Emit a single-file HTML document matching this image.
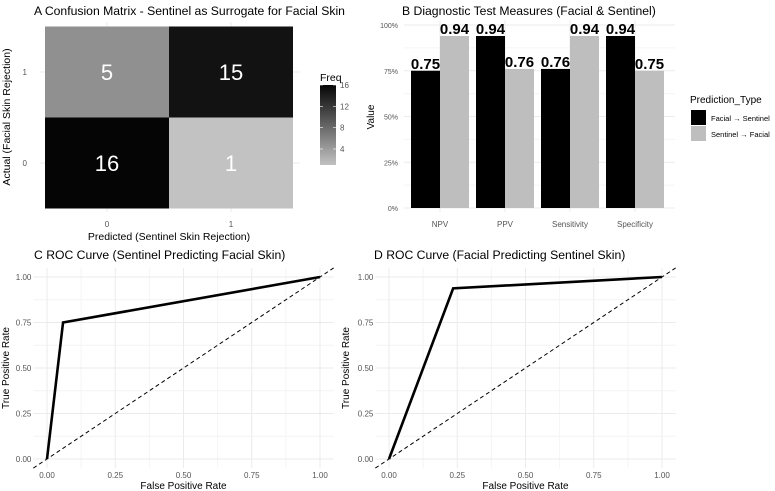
<!DOCTYPE html>
<html><head><meta charset="utf-8"><style>
body{margin:0;background:#fff;font-family:"Liberation Sans",sans-serif}
svg{display:block}
</style></head><body>
<svg id="c" width="775" height="491" xmlns="http://www.w3.org/2000/svg" font-family="Liberation Sans, sans-serif">
<defs><linearGradient id="fg" x1="0" y1="1" x2="0" y2="0"><stop offset="0" stop-color="#c2c2c2"/><stop offset="1" stop-color="#050505"/></linearGradient></defs>
</svg>
<script>
// Panel A data
const cmPred=[0,1,0,1];
const cmActual=[1,1,0,0];
const cmFreq=[5,15,16,1];
// Panel B data
const measures=["NPV","PPV","Sensitivity","Specificity"];
const facialToSentinel=[0.75,0.94,0.76,0.94];
const sentinelToFacial=[0.94,0.76,0.94,0.75];
const pctTicks=[0,0.25,0.5,0.75,1];
// ROC data
const rocC_fpr=[0,0.0588,1];
const rocC_tpr=[0,0.75,1];
const rocD_fpr=[0,0.235,1];
const rocD_tpr=[0,0.9375,1];
const rocTicks=[0,0.25,0.5,0.75,1];

const svg=document.getElementById('c');
const NS="http://www.w3.org/2000/svg";
function el(tag,attrs,parent){const e=document.createElementNS(NS,tag);for(const k in attrs)e.setAttribute(k,attrs[k]);(parent||svg).appendChild(e);return e;}
function txt(s,attrs,parent){const e=el('text',attrs,parent);e.textContent=s;return e;}
const grid='#ebebeb', minor='#f4f4f4';

// ---------- Panel A ----------
const gA=el('g',{});


const t=txt('A  Confusion Matrix - Sentinel as Surrogate for Facial Skin',{x:34,y:15,'font-size':12.2,fill:'#000'},gA);

const ax=v=>107+v*124, ay=v=>163-v*91;
[0,1].forEach(v=>{el('line',{x1:ax(v),x2:ax(v),y1:22,y2:212,stroke:grid},gA);el('line',{x1:40,x2:300,y1:ay(v),y2:ay(v),stroke:grid},gA);});
const fMin=1,fMax=16;
function grayOf(f){const u=(f-fMin)/(fMax-fMin);const c=Math.round(194-u*189);return `rgb(${c},${c},${c})`;}
cmFreq.forEach((f,i)=>{
 const r=el('rect',{x:ax(cmPred[i])-62,y:ay(cmActual[i])-45.5,width:124,height:91,fill:grayOf(f)},gA);
 
 
 const l=txt(String(f),{x:ax(cmPred[i]),y:ay(cmActual[i])+8,'text-anchor':'middle','font-size':22,fill:'#fff'},gA);
 
});
[0,1].forEach(v=>{txt(String(v),{x:ax(v),y:227,'text-anchor':'middle','font-size':8,fill:'#555'},gA);txt(String(v),{x:27,y:ay(v)+3,'text-anchor':'end','font-size':8,fill:'#555'},gA);});
let xl=txt('Predicted (Sentinel Skin Rejection)',{x:169,y:240,'text-anchor':'middle','font-size':10.5},gA);

let yl=txt('Actual (Facial Skin Rejection)',{x:0,y:0,transform:'translate(10,117) rotate(-90)','text-anchor':'middle','font-size':10.5},gA);

// legend
const lg=el('g',{},gA);

txt('Freq',{x:320,y:81,'font-size':10.5},lg);
el('rect',{x:320,y:85,width:16,height:80,fill:'url(#fg)'},lg);
const fy=f=>165-(f-fMin)/(fMax-fMin)*80;
[4,8,12,16].forEach(f=>{el('line',{x1:320,x2:323,y1:fy(f),y2:fy(f),stroke:'#fff','stroke-width':0.6},lg);el('line',{x1:333,x2:336,y1:fy(f),y2:fy(f),stroke:'#fff','stroke-width':0.6},lg);txt(String(f),{x:340,y:fy(f)+3,'font-size':8,fill:'#555'},lg);});

// ---------- Panel B ----------
const gB=el('g',{});

const tb=txt('B  Diagnostic Test Measures (Facial & Sentinel)',{x:402,y:15,'font-size':12.2},gB);

const by=v=>208-v*183, bx=i=>440+i*65;
for(let k=0;k<4;k++){const v=0.125+k*0.25;el('line',{x1:404,x2:675,y1:by(v),y2:by(v),stroke:minor},gB);}
pctTicks.forEach(v=>{el('line',{x1:404,x2:675,y1:by(v),y2:by(v),stroke:grid},gB);txt(Math.round(v*100)+'%',{x:398,y:by(v)+3,'text-anchor':'end','font-size':7,fill:'#555'},gB);});
measures.forEach((m,i)=>{el('line',{x1:bx(i),x2:bx(i),y1:20,y2:212,stroke:grid},gB);txt(m,{x:bx(i),y:227,'text-anchor':'middle','font-size':8,fill:'#555'},gB);});
function bars(vals,off,color,name){vals.forEach((v,i)=>{
 const r=el('rect',{x:bx(i)+off,y:by(v),width:29,height:by(0)-by(v),fill:color},gB);
 
 const l=txt(v.toFixed(2),{x:bx(i)+off+14.5,y:by(v)-2,'text-anchor':'middle','font-size':15,'font-weight':'bold'},gB);
 
});}
bars(facialToSentinel,-29,'#000','bar-facial-to-sentinel');
bars(sentinelToFacial,0,'#bebebe','bar-sentinel-to-facial');
let vy=txt('Value',{x:0,y:0,transform:'translate(374,117) rotate(-90)','text-anchor':'middle','font-size':10},gB);

const lb=el('g',{},gB);
txt('Prediction_Type',{x:690,y:103,'font-size':10},lb);
el('rect',{x:691,y:110,width:15,height:15,fill:'#000'},lb);
el('rect',{x:691,y:126,width:15,height:15,fill:'#bebebe'},lb);
txt('Facial → Sentinel',{x:711,y:121,'font-size':7.5},lb);
txt('Sentinel → Facial',{x:711,y:137,'font-size':7.5},lb);

// ---------- ROC panels ----------
function roc(x0,x1,fpr,tpr,title,letterX,name,ylabX){
 const g=el('g',{});
 const sx=v=>x0+v*(x1-x0), sy=v=>459-v*182;
 const L=sx(-0.05),R=sx(1.05);
 for(let k=0;k<4;k++){const v=0.125+k*0.25;el('line',{x1:sx(v),x2:sx(v),y1:268,y2:468,stroke:minor},g);el('line',{x1:L,x2:R,y1:sy(v),y2:sy(v),stroke:minor},g);}
 rocTicks.forEach(v=>{el('line',{x1:sx(v),x2:sx(v),y1:268,y2:468,stroke:grid},g);el('line',{x1:L,x2:R,y1:sy(v),y2:sy(v),stroke:grid},g);
  txt(v.toFixed(2),{x:sx(v),y:478,'text-anchor':'middle','font-size':8,fill:'#555'},g);
  txt(v.toFixed(2),{x:sx(-0.05)-2,y:sy(v)+3,'text-anchor':'end','font-size':8,fill:'#555'},g);});
 const d=el('line',{x1:sx(-0.05),y1:sy(-0.05),x2:sx(1.05),y2:sy(1.05),stroke:'#000','stroke-width':1,'stroke-dasharray':'4,3'},g);
 
 const p=el('polyline',{points:fpr.map((f,i)=>sx(f)+','+sy(tpr[i])).join(' '),fill:'none',stroke:'#000','stroke-width':2.6},g);
 
 const tt=txt(title,{x:letterX,y:259,'font-size':12.2},g);
 const xt=txt('False Positive Rate',{x:(x0+x1)/2,y:489,'text-anchor':'middle','font-size':10},g);
 const yt=txt('True Positive Rate',{x:0,y:0,transform:`translate(${ylabX},368) rotate(-90)`,'text-anchor':'middle','font-size':10},g);
}
roc(47,320,rocC_fpr,rocC_tpr,'C  ROC Curve (Sentinel Predicting Facial Skin)',34,'roc-panel-c',9);
roc(389,662,rocD_fpr,rocD_tpr,'D  ROC Curve (Facial Predicting Sentinel Skin)',374,'roc-panel-d',349);
</script>
</body></html>
